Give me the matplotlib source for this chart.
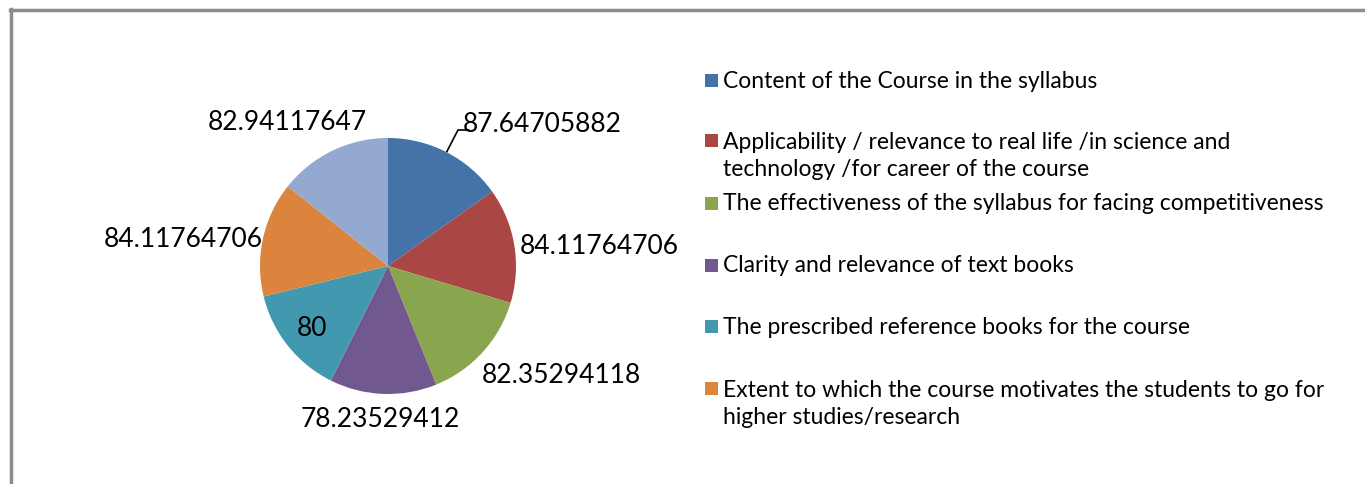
import numpy as np
import matplotlib.pyplot as plt
from matplotlib.patches import Rectangle
from matplotlib.lines import Line2D

# datos del grafico
valores = [87.64705882, 84.11764706, 82.35294118, 78.23529412, 80, 84.11764706, 82.94117647]
etiquetas = ['87.64705882', '84.11764706', '82.35294118', '78.23529412', '80', '84.11764706', '82.94117647']
leyenda = ['Content of the Course in the syllabus',
           'Applicability / relevance to real life /in science and\ntechnology /for career of the course',
           'The effectiveness of the syllabus for facing competitiveness',
           'Clarity and relevance of text books',
           'The prescribed reference books for the course',
           'Extent to which the course motivates the students to go for\nhigher studies/research']
colores = ['#4572A7', '#AA4643', '#89A54E', '#71588F', '#4198AF', '#DB843D', '#93A9CF']

plt.rcParams['font.family'] = ['Lato', 'DejaVu Sans']

W, H = 1365, 485
fig = plt.figure(figsize=(W / 100, H / 100), dpi=100)

# tarta
cx, cy, R = 388, 267, 128
ax = fig.add_axes([(cx - 300) / W, (H - cy - 230) / H, 600 / W, 460 / H])
wedges, _ = ax.pie(valores, colors=colores, startangle=90, counterclock=False,
                   radius=1, wedgeprops=dict(linewidth=0))
ax.set_aspect('auto')
ax.set_xlim(-300 / R, 300 / R)
ax.set_ylim(-230 / R, 230 / R)

# posiciones de las etiquetas (pixeles)
pos_etiquetas = [(542, 125), (599, 247), (561, 376), (380, 420), (312, 329), (183, 240), (287, 122)]
for txt, (px, py) in zip(etiquetas, pos_etiquetas):
    ax.text((px - cx) / R, (cy - py) / R, txt, ha='center', va='center', fontsize=19, color='black')

# linea guia de la primera etiqueta
w0 = wedges[0]
ang = np.deg2rad((w0.theta1 + w0.theta2) / 2)
p0 = np.array([np.cos(ang), np.sin(ang)])
p1 = p0 * 1.195
p2 = p1 + np.array([0.09, 0])
ax.plot([p0[0], p1[0], p2[0]], [p0[1], p1[1], p2[1]], color='black', lw=1.2, solid_capstyle='butt')

# leyenda manual
y_leyenda = [81, 141, 204, 266, 327, 389]
for lab, col, y in zip(leyenda, colores, y_leyenda):
    n = lab.count('\n')
    fig.add_artist(Rectangle((705 / W, (H - y - 6.5) / H), 13 / W, 13 / H,
                             transform=fig.transFigure, facecolor=col, edgecolor='none'))
    fig.text(723 / W, (H - y - n * 15) / H, lab, ha='left', va='center', fontsize=16.5,
             linespacing=1.3, color='black')

# borde
fig.add_artist(Line2D([10 / W, 1], [(H - 11) / H, (H - 11) / H], transform=fig.transFigure,
                      color='#8c8c8c', lw=2.5))
fig.add_artist(Line2D([11 / W, 11 / W], [0, (H - 10) / H], transform=fig.transFigure,
                      color='#8c8c8c', lw=2.5))

fig.savefig('out.png', dpi=100)
